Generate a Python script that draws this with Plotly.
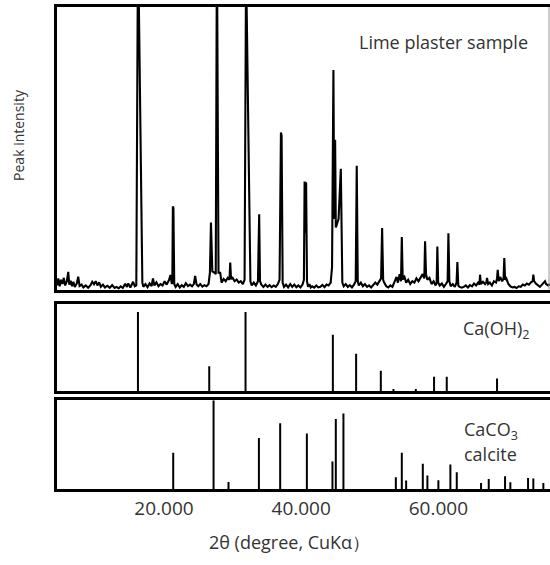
import plotly.graph_objects as go

# ---------------- data ----------------
# Lime plaster sample scan (2theta in degrees, intensity in % of panel height)
sample_2theta = [
    4.45, 4.6, 4.8, 5.0, 5.2, 5.4, 5.6, 5.85, 6.05, 6.2, 6.4, 6.6, 6.8, 7.0, 7.3, 7.5, 7.7, 8.0, 8.25, 8.6,
    8.95, 9.3, 9.55, 9.8, 10.05, 10.3, 10.55, 10.8, 11.1, 11.4, 11.75, 12.1, 12.45, 12.8, 13.1, 13.4, 13.7, 14.0, 14.35, 14.6,
    14.8, 15.1, 15.5, 15.75, 15.97, 16.22, 16.85, 17.0, 17.3, 17.6, 17.9, 18.2, 18.4, 18.6, 18.9, 19.2, 19.5, 19.8, 20.1, 20.4,
    20.75, 20.95, 21.15, 21.22, 21.3, 21.38, 21.5, 21.7, 22.0, 22.3, 22.6, 22.9, 23.2, 23.5, 23.8, 24.1, 24.35, 24.55, 24.75, 25.0,
    25.3, 25.6, 25.9, 26.2, 26.5, 26.7, 26.85, 26.95, 27.05, 27.4, 27.55, 27.72, 27.95, 28.2, 28.3, 28.4, 28.7, 29.0, 29.3, 29.55,
    29.66, 29.78, 30.0, 30.3, 30.6, 30.9, 31.2, 31.5, 31.75, 31.97, 32.6, 32.8, 33.1, 33.4, 33.7, 33.88, 34.0, 34.2, 34.5, 34.8,
    35.1, 35.4, 35.7, 36.0, 36.3, 36.6, 36.85, 37.05, 37.15, 37.3, 37.5, 37.8, 38.1, 38.4, 38.7, 39.0, 39.3, 39.6, 39.9, 40.2,
    40.4, 40.5, 40.6, 40.72, 40.85, 41.0, 41.2, 41.4, 41.6, 41.9, 42.2, 42.5, 42.8, 43.1, 43.4, 43.7, 44.0, 44.3, 44.5, 44.7,
    44.82, 44.95, 45.05, 45.45, 45.78, 46.0, 46.2, 46.5, 46.8, 47.1, 47.4, 47.7, 47.95, 48.1, 48.25, 48.4, 48.7, 49.0, 49.3, 49.6,
    49.9, 50.2, 50.5, 50.8, 51.1, 51.4, 51.65, 51.8, 51.95, 52.1, 52.4, 52.7, 53.0, 53.3, 53.6, 53.9, 54.1, 54.35, 54.55, 54.67,
    54.8, 55.0, 55.3, 55.6, 55.9, 56.2, 56.5, 56.8, 57.1, 57.4, 57.7, 57.95, 58.06, 58.2, 58.4, 58.7, 59.0, 59.3, 59.6, 59.75,
    59.85, 59.97, 60.2, 60.5, 60.8, 61.1, 61.35, 61.46, 61.6, 61.8, 62.1, 62.4, 62.65, 62.77, 62.9, 63.1, 63.4, 63.7, 64.0, 64.3,
    64.6, 64.9, 65.2, 65.5, 65.8, 66.0, 66.07, 66.2, 66.5, 66.8, 67.0, 67.09, 67.25, 67.5, 67.8, 68.1, 68.4, 68.55, 68.65, 68.8,
    69.0, 69.3, 69.5, 69.61, 69.72, 69.9, 70.2, 70.5, 70.8, 71.1, 71.4, 71.7, 72.0, 72.3, 72.6, 72.9, 73.2, 73.5, 73.75, 73.84,
    73.95, 74.2, 74.5, 74.8, 75.1, 75.35, 75.54, 75.7, 76.0, 76.3,
]
sample_intensity = [
    1.5, 4.0, 1.2, 3.5, 2.0, 4.2, 1.5, 3.0, 6.3, 1.8, 3.2, 1.2, 2.8, 1.0, 2.2, 4.6, 1.3, 1.8, 0.8, 1.5,
    0.7, 1.6, 2.8, 1.9, 3.0, 1.5, 2.6, 1.0, 1.8, 0.8, 1.4, 0.7, 1.6, 0.6, 1.0, 0.5, 1.2, 0.6, 2.1, 1.0,
    2.2, 0.8, 2.8, 1.2, 1.5, 125.0, 2.5, 1.0, 2.0, 0.9, 2.2, 1.3, 4.0, 1.5, 2.6, 1.2, 2.0, 1.5, 3.0, 1.8,
    3.5, 5.2, 2.0, 3.0, 29.4, 29.0, 2.0, 1.0, 2.0, 0.8, 1.6, 1.0, 2.3, 1.3, 1.8, 1.2, 2.0, 4.9, 1.8, 1.2,
    2.0, 1.1, 1.6, 1.2, 2.0, 6.0, 23.8, 8.0, 6.5, 6.0, 5.5, 125.0, 6.0, 6.0, 2.5, 2.5, 3.8, 3.0, 4.2, 3.5,
    9.6, 3.8, 4.2, 3.0, 3.6, 2.5, 3.0, 2.0, 3.5, 115.0, 3.0, 1.5, 2.5, 1.5, 3.0, 26.7, 3.0, 1.8, 1.0, 1.8,
    1.0, 1.6, 0.9, 1.5, 1.0, 2.0, 3.5, 55.6, 54.5, 2.5, 1.0, 1.8, 0.8, 2.0, 1.0, 1.8, 0.9, 1.5, 0.8, 1.8,
    3.5, 38.3, 20.0, 38.0, 3.0, 1.0, 2.0, 0.8, 1.2, 0.7, 1.5, 0.8, 1.0, 1.7, 0.9, 1.8, 1.5, 2.5, 8.0, 77.7,
    25.0, 53.0, 22.0, 25.0, 42.8, 2.5, 1.2, 2.0, 1.0, 1.6, 0.8, 1.8, 3.0, 43.8, 3.0, 1.5, 2.5, 1.2, 2.0, 1.0,
    1.5, 0.8, 1.6, 2.5, 1.8, 2.8, 4.0, 21.8, 3.5, 2.5, 1.2, 0.8, 1.5, 1.0, 2.8, 4.5, 2.5, 5.5, 3.0, 18.6,
    3.5, 5.0, 2.5, 3.5, 2.0, 3.0, 2.5, 4.0, 3.0, 4.5, 5.5, 4.0, 17.1, 5.5, 3.5, 4.2, 2.0, 3.0, 1.5, 2.5,
    15.3, 2.5, 1.5, 2.2, 1.0, 2.0, 3.0, 20.0, 3.0, 1.2, 2.0, 1.0, 2.5, 9.8, 1.5, 1.0, 0.7, 1.0, 1.5, 0.8,
    1.6, 1.2, 2.2, 1.5, 2.5, 1.8, 5.3, 2.0, 2.8, 2.0, 2.6, 4.2, 2.0, 2.5, 1.5, 3.0, 2.5, 4.0, 7.0, 3.0,
    4.5, 3.0, 4.0, 11.2, 3.5, 4.0, 2.0, 1.2, 0.8, 1.0, 0.6, 1.2, 1.0, 1.8, 1.5, 2.2, 1.8, 2.6, 3.0, 5.3,
    3.0, 2.2, 1.6, 1.0, 1.8, 2.5, 3.0, 2.0, 1.5, 2.0,
]

# Ca(OH)2 reference lines
caoh2_2theta = [16.21, 26.6, 31.89, 44.62, 48.01, 51.61, 53.45, 56.71, 59.37, 61.22, 68.55]
caoh2_intensity = [90.5, 28.6, 90.5, 64.4, 42.8, 23.4, 2.7, 2.7, 16.6, 16.6, 14.7]

# CaCO3 calcite reference lines
calcite_2theta = [21.35, 27.23, 29.41, 33.84, 36.94, 40.83, 44.56, 45.05, 46.16, 53.80, 54.67, 55.30,
                  57.73, 58.40, 60.00, 61.75, 62.68, 66.22, 67.34, 69.72, 70.49, 73.07, 73.84, 75.30]
calcite_intensity = [40.8, 100.0, 8.0, 57.4, 74.2, 62.5, 31.1, 79.0, 85.0, 13.3, 40.8, 9.6,
                     28.6, 15.2, 9.8, 27.6, 19.0, 6.9, 11.4, 14.3, 7.6, 12.5, 11.8, 6.9]

x_tickvals = [20, 40, 60]
x_ticktext = ["20.000", "40.000", "60.000"]

# ---------------- figure ----------------
FONT = "Open Sans"
TXT = "#333333"


def sticks(xs, ys):
    sx, sy = [], []
    for x, y in zip(xs, ys):
        sx += [x, x, None]
        sy += [0, y, None]
    return sx, sy


fig = go.Figure()

fig.add_trace(go.Scatter(x=sample_2theta, y=sample_intensity, mode="lines",
                         line=dict(color="black", width=2.1), xaxis="x3", yaxis="y3",
                         showlegend=False, hoverinfo="skip"))

sx, sy = sticks(caoh2_2theta, caoh2_intensity)
fig.add_trace(go.Scatter(x=sx, y=sy, mode="lines", line=dict(color="black", width=2),
                         xaxis="x2", yaxis="y2", showlegend=False, hoverinfo="skip"))

sx, sy = sticks(calcite_2theta, calcite_intensity)
fig.add_trace(go.Scatter(x=sx, y=sy, mode="lines", line=dict(color="black", width=2),
                         xaxis="x", yaxis="y", showlegend=False, hoverinfo="skip"))

XR = [4.41, 76.27]
common_x = dict(range=XR, showgrid=False, zeroline=False, showline=True, mirror=True,
                linecolor="black", linewidth=2.5, ticks="")
common_y = dict(range=[0, 100], showgrid=False, zeroline=False, showline=True, mirror=False,
                linecolor="black", linewidth=2.5, ticks="", showticklabels=False)

fig.update_layout(
    width=550, height=565,
    margin=dict(l=57, r=0, t=7, b=75.5),
    paper_bgcolor="white", plot_bgcolor="white",
    font=dict(family=FONT, color=TXT, size=18),
    xaxis=dict(**common_x, anchor="y", tickvals=x_tickvals, ticktext=x_ticktext,
               tickfont=dict(family=FONT, size=19, color=TXT), ticklabelstandoff=0),
    xaxis2=dict(**common_x, anchor="y2", matches="x", showticklabels=False),
    xaxis3=dict(**common_x, anchor="y3", matches="x", showticklabels=False),
    yaxis=dict(**common_y, domain=[0, 0.184], anchor="x"),
    yaxis2=dict(**common_y, domain=[0.2027, 0.3845], anchor="x2"),
    yaxis3=dict(**common_y, domain=[0.4135, 1.0], anchor="x3"),
)

fig.add_shape(type="line", xref="paper", yref="paper", x0=0.998, x1=0.998, y0=0.4135, y1=1.0,
              line=dict(color="#999999", width=1))

ann = [
    dict(text="Lime plaster sample", x=0.783, y=0.9275, xanchor="center", yanchor="middle",
         font=dict(size=18)),
    dict(text="Ca(OH)<sub>2</sub>", x=0.819, y=0.330, xanchor="left", yanchor="middle",
         font=dict(size=18)),
    dict(text="CaCO<sub>3</sub>", x=0.8225, y=0.122, xanchor="left", yanchor="middle",
         font=dict(size=18)),
    dict(text="calcite", x=0.8225, y=0.073, xanchor="left", yanchor="middle",
         font=dict(size=18)),
    dict(text="2θ (degree, CuKα）", x=0.4726, y=-0.1109, xanchor="center", yanchor="middle",
         font=dict(size=18)),
    dict(text="Peak intensity", x=-0.077, y=0.7347, xanchor="center", yanchor="middle",
         textangle=-90, font=dict(size=14)),
]
for a in ann:
    a.update(xref="paper", yref="paper", showarrow=False)
    fig.add_annotation(**a)

fig.write_html("out.html")
